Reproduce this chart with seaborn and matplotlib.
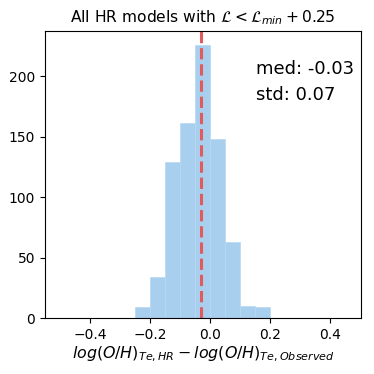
import numpy as np
import pandas as pd
import seaborn as sns
import matplotlib
matplotlib.use("Agg")
import matplotlib.pyplot as plt

bin_edges = [-0.25, -0.20, -0.15, -0.10, -0.05, 0.00, 0.05, 0.10, 0.15, 0.20]
counts = [9, 34, 129, 161, 226, 148, 63, 10, 9]
median_val = -0.031
med_label = "med: -0.03"
std_label = "std: 0.07"

centers = [(a + b) / 2 for a, b in zip(bin_edges[:-1], bin_edges[1:])]
df = pd.DataFrame({"x": centers, "n": counts})

fig = plt.figure(figsize=(3.74, 3.74), dpi=100)
ax = fig.add_axes([0.12, 0.149, 0.845, 0.768])
sns.histplot(data=df, x="x", weights="n", bins=bin_edges, ax=ax,
             color="#a9cfef", alpha=1.0, edgecolor="#b8d8f2", linewidth=0.5)
ax.axvline(median_val, color="#e05c5c", linestyle="--", linewidth=2.2)
ax.set_xlim(-0.55, 0.503)
ax.set_xticks([-0.4, -0.2, 0.0, 0.2, 0.4])
ax.set_yticks([0, 50, 100, 150, 200])
ax.set_ylabel("")
ax.set_title(r"All HR models with $\mathcal{L} < \mathcal{L}_{min} + 0.25$", fontsize=11.2)
ax.set_xlabel(r"$log(O/H)_{Te,HR} - log(O/H)_{Te,Observed}$", fontsize=11.4, labelpad=2)
ax.tick_params(labelsize=10)
ax.text(0.667, 0.9, med_label, transform=ax.transAxes, fontsize=13, va="top", ha="left")
ax.text(0.667, 0.81, std_label, transform=ax.transAxes, fontsize=13, va="top", ha="left")
fig.savefig("out.png", dpi=100)
